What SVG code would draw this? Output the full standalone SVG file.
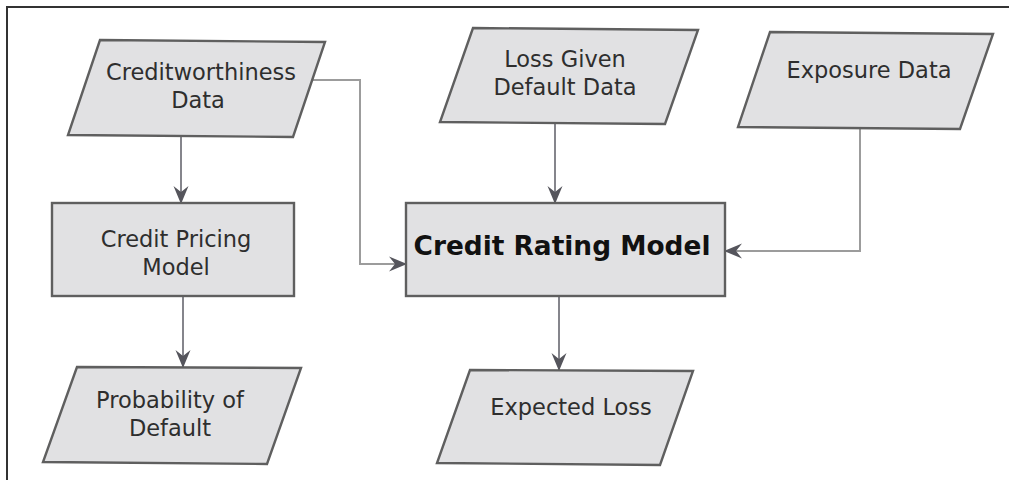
<svg xmlns="http://www.w3.org/2000/svg" width="1009" height="480" viewBox="0 0 1009 480">
  <defs>
    <style>
      .shape { fill: #e1e1e3; stroke: #5f5f5f; stroke-width: 2.4; }
      .label { font-family: "DejaVu Sans", Verdana, sans-serif; font-size: 22.5px; fill: #2e2e2e; text-anchor: middle; }
      .title { font-family: "DejaVu Sans", Verdana, sans-serif; font-size: 26.4px; font-weight: bold; fill: #111; text-anchor: middle; }
      .link { fill: none; stroke: #85858c; stroke-width: 2; }
      .elbow { fill: none; stroke: #9c9c9c; stroke-width: 2; }
    </style>
    <marker id="arrow" viewBox="0 0 18 18" refX="17" refY="9" markerWidth="18" markerHeight="18" markerUnits="userSpaceOnUse" orient="auto">
      <path d="M0,1.5 L18,9 L0,16.5 L6,9 Z" fill="#55555c"/>
    </marker>
  </defs>

  <rect width="1009" height="480" fill="#fff"/>

  <!-- outer frame (top and left edges) -->
  <path d="M7,480 V7 H1009" fill="none" stroke="#333" stroke-width="2"/>

  <!-- connectors -->
  <g id="connectors">
    <path class="link" d="M181,136 V203" marker-end="url(#arrow)"/>
    <path class="link" d="M183,296 V367" marker-end="url(#arrow)"/>
    <path class="elbow" d="M312,80 H360 V264 H406" marker-end="url(#arrow)"/>
    <path class="link" d="M555,123 V203" marker-end="url(#arrow)"/>
    <path class="elbow" d="M860,128 V251 H725" marker-end="url(#arrow)"/>
    <path class="link" d="M559,296 V370" marker-end="url(#arrow)"/>
  </g>

  <g id="creditworthiness-data">
    <polygon class="shape" points="100,40 325,42 293,137 68,135"/>
    <text class="label" x="201" y="80">Creditworthiness</text>
    <text class="label" x="198" y="108">Data</text>
  </g>

  <g id="loss-given-default-data">
    <polygon class="shape" points="473,28 698,30 665,124 440,122"/>
    <text class="label" x="565" y="67">Loss Given</text>
    <text class="label" x="565" y="95">Default Data</text>
  </g>

  <g id="exposure-data">
    <polygon class="shape" points="770,32 993,34 960,129 738,127"/>
    <text class="label" x="869" y="78">Exposure Data</text>
  </g>

  <g id="credit-pricing-model">
    <rect class="shape" x="52" y="203" width="242" height="93"/>
    <text class="label" x="176" y="247">Credit Pricing</text>
    <text class="label" x="176" y="275">Model</text>
  </g>

  <g id="credit-rating-model">
    <rect class="shape" x="406" y="203" width="319" height="93"/>
    <text class="title" x="562" y="255">Credit Rating Model</text>
  </g>

  <g id="probability-of-default">
    <polygon class="shape" points="77,367 301,368 267,464 43,462"/>
    <text class="label" x="170" y="408">Probability of</text>
    <text class="label" x="170" y="436">Default</text>
  </g>

  <g id="expected-loss">
    <polygon class="shape" points="470,370 693,371 660,465 437,463"/>
    <text class="label" x="571" y="415">Expected Loss</text>
  </g>
</svg>
